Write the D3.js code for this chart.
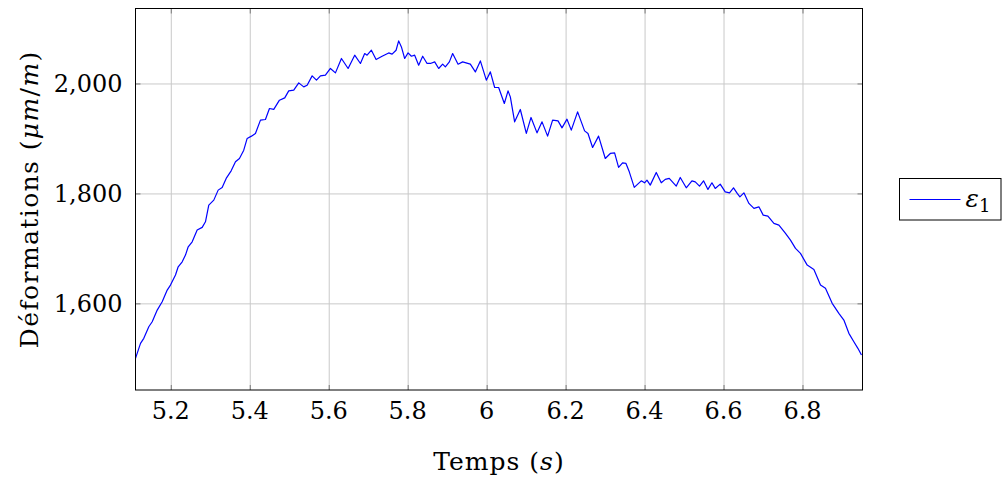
<!DOCTYPE html>
<html>
<head>
<meta charset="utf-8">
<script src="https://cdn.jsdelivr.net/npm/d3@7"></script>
<style>
    body { margin: 0; background: #fff; }
    svg { display: block; }
</style>
</head>
<body>
<div id="chart"></div>
<script>
// time (s)
const temps = [5.1106, 5.1233, 5.1316, 5.1443, 5.1529, 5.1656, 5.1782, 5.1909, 5.1992, 5.2119,
    5.2187, 5.2289, 5.2372, 5.2441, 5.2542, 5.2668, 5.2795, 5.2878, 5.2962, 5.3089,
    5.3200, 5.3301, 5.3403, 5.3529, 5.3638, 5.3739, 5.3848, 5.3934, 5.4043, 5.4144,
    5.4271, 5.4397, 5.4499, 5.4608, 5.4752, 5.4886, 5.4987, 5.5114, 5.5241, 5.5367,
    5.5453, 5.5580, 5.5689, 5.5790, 5.5916, 5.6043, 5.6170, 5.6322, 5.6491, 5.6658,
    5.6803, 5.6911, 5.6972, 5.7081, 5.7200, 5.7352, 5.7519, 5.7605, 5.7706, 5.7772,
    5.7841, 5.7924, 5.8010, 5.8094, 5.8177, 5.8278, 5.8380, 5.8491, 5.8575, 5.8684,
    5.8785, 5.8886, 5.8954, 5.9056, 5.9139, 5.9276, 5.9392, 5.9587, 5.9714, 5.9841,
    5.9992, 6.0094, 6.0203, 6.0304, 6.0448, 6.0542, 6.0600, 6.0709, 6.0853, 6.1005,
    6.1124, 6.1276, 6.1403, 6.1544, 6.1671, 6.1808, 6.1909, 6.2035, 6.2144, 6.2304,
    6.2481, 6.2567, 6.2684, 6.2835, 6.3005, 6.3132, 6.3241, 6.3342, 6.3443, 6.3529,
    6.3613, 6.3739, 6.3916, 6.4000, 6.4061, 6.4144, 6.4296, 6.4423, 6.4524, 6.4625,
    6.4803, 6.4904, 6.5056, 6.5200, 6.5284, 6.5392, 6.5494, 6.5605, 6.5706, 6.5790,
    6.5916, 6.6043, 6.6152, 6.6253, 6.6347, 6.6415, 6.6516, 6.6643, 6.6770, 6.6896,
    6.7005, 6.7124, 6.7276, 6.7403, 6.7570, 6.7696, 6.7823, 6.7949, 6.8119, 6.8289,
    6.8456, 6.8582, 6.8752, 6.8921, 6.9048, 6.9175, 6.9301, 6.9403, 6.9494];

// strain epsilon_1 (µm/m)
const epsilon1 = [1500.0, 1527.3, 1536.4, 1557.5, 1566.5, 1587.8, 1602.9, 1624.2, 1633.3, 1651.5,
    1666.5, 1675.6, 1687.8, 1702.9, 1712.0, 1733.3, 1738.2, 1748.4, 1778.7, 1787.8,
    1806.0, 1810.9, 1827.3, 1841.1, 1857.5, 1863.6, 1878.7, 1900.0, 1904.2, 1909.1,
    1933.3, 1934.5, 1954.5, 1953.0, 1969.6, 1973.8, 1986.5, 1987.8, 2001.1, 1993.8,
    1996.9, 2013.8, 2006.0, 2013.8, 2015.1, 2027.3, 2019.3, 2045.5, 2027.3, 2051.5,
    2036.4, 2054.5, 2051.5, 2060.5, 2043.6, 2049.6, 2055.6, 2053.3, 2060.5, 2077.5,
    2066.5, 2045.5, 2055.6, 2049.6, 2051.5, 2033.3, 2049.6, 2036.4, 2036.4, 2039.3,
    2027.3, 2035.1, 2030.2, 2039.3, 2054.5, 2035.1, 2039.3, 2035.1, 2021.1, 2041.1,
    2006.0, 2021.1, 1992.7, 1992.7, 1963.6, 1986.5, 1975.6, 1930.2, 1952.7, 1909.1,
    1938.2, 1910.2, 1930.2, 1904.2, 1933.3, 1932.0, 1919.3, 1935.1, 1915.1, 1948.4,
    1913.8, 1909.1, 1883.6, 1904.2, 1863.6, 1872.7, 1873.8, 1847.3, 1855.6, 1854.5,
    1839.3, 1810.9, 1822.9, 1819.3, 1824.2, 1815.1, 1838.2, 1819.3, 1825.5, 1827.3,
    1813.3, 1829.1, 1810.2, 1822.9, 1821.1, 1813.3, 1822.9, 1807.3, 1819.3, 1809.1,
    1816.9, 1802.9, 1801.1, 1810.2, 1800.0, 1793.8, 1801.1, 1781.8, 1772.7, 1775.6,
    1760.5, 1758.7, 1745.5, 1742.4, 1727.3, 1715.1, 1700.0, 1690.9, 1669.6, 1661.8,
    1633.3, 1627.3, 1600.0, 1581.8, 1569.7, 1545.5, 1530.2, 1518.2, 1506.0];

const xTickValues = [5.2, 5.4, 5.6, 5.8, 6.0, 6.2, 6.4, 6.6, 6.8];
const xTickLabels = ["5.2", "5.4", "5.6", "5.8", "6", "6.2", "6.4", "6.6", "6.8"];
const yTickValues = [1600, 1800, 2000];
const yTickLabels = ["1,600", "1,800", "2,000"];
const xRange = [5.1106, 6.952];
const yRange = [1442.4, 2136.4];

const FONT = "'DejaVu Serif', serif";

function drawChart() {
    const W = 1002, H = 478;
    const margin = {top: 8.5, left: 135.5},
        width = 727,
        height = 381.5;

    const svg = d3.select("#chart")
        .append("svg")
        .attr("width", W)
        .attr("height", H)
        .attr("font-family", FONT);

    const g = svg.append("g")
        .attr("transform", `translate(${margin.left},${margin.top})`);

    const x = d3.scaleLinear().domain(xRange).range([0, width]);
    const y = d3.scaleLinear().domain(yRange).range([height, 0]);

    // grid
    g.append("g")
        .attr("transform", `translate(0,${height})`)
        .call(d3.axisBottom(x).tickValues(xTickValues).tickSize(-height).tickFormat(""))
        .call(a => a.select(".domain").remove())
        .call(a => a.selectAll("line").attr("stroke", "#c9c9c9").attr("stroke-width", 1));
    g.append("g")
        .call(d3.axisLeft(y).tickValues(yTickValues).tickSize(-width).tickFormat(""))
        .call(a => a.select(".domain").remove())
        .call(a => a.selectAll("line").attr("stroke", "#c9c9c9").attr("stroke-width", 1));

    // inner tick marks on all four sides
    const tk = 5;
    const tickStyle = a => {
        a.select(".domain").remove();
        a.selectAll("line").attr("stroke", "#7a7a7a").attr("stroke-width", 1);
    };
    g.append("g").attr("transform", `translate(0,${height})`)
        .call(d3.axisBottom(x).tickValues(xTickValues).tickSize(-tk).tickFormat("")).call(tickStyle);
    g.append("g")
        .call(d3.axisTop(x).tickValues(xTickValues).tickSize(-tk).tickFormat("")).call(tickStyle);
    g.append("g")
        .call(d3.axisLeft(y).tickValues(yTickValues).tickSize(-tk).tickFormat("")).call(tickStyle);
    g.append("g").attr("transform", `translate(${width},0)`)
        .call(d3.axisRight(y).tickValues(yTickValues).tickSize(-tk).tickFormat("")).call(tickStyle);

    // tick labels
    g.append("g").selectAll("text")
        .data(xTickValues)
        .enter().append("text")
        .attr("x", d => x(d))
        .attr("y", height + 29)
        .attr("text-anchor", "middle")
        .attr("font-size", 24)
        .text((d, i) => xTickLabels[i]);

    g.append("g").selectAll("text")
        .data(yTickValues)
        .enter().append("text")
        .attr("x", -13)
        .attr("y", d => y(d) + 9)
        .attr("text-anchor", "end")
        .attr("font-size", 24)
        .text((d, i) => yTickLabels[i]);

    // data line
    const points = temps.map((t, i) => [t, epsilon1[i]]);
    g.append("path")
        .datum(points)
        .attr("fill", "none")
        .attr("stroke", "#0000ff")
        .attr("stroke-width", 1.2)
        .attr("stroke-linejoin", "round")
        .attr("d", d3.line().x(d => x(d[0])).y(d => y(d[1])));

    // frame
    g.append("rect")
        .attr("width", width)
        .attr("height", height)
        .attr("fill", "none")
        .attr("stroke", "#000")
        .attr("stroke-width", 1);

    // axis titles
    const xt = svg.append("text")
        .attr("x", margin.left + width / 2)
        .attr("y", 470)
        .attr("text-anchor", "middle")
        .attr("font-size", 25)
        .attr("letter-spacing", 1);
    xt.append("tspan").text("Temps (");
    xt.append("tspan").attr("font-style", "italic").text("s");
    xt.append("tspan").text(")");

    const yt = svg.append("text")
        .attr("transform", `translate(38,${margin.top + height / 2}) rotate(-90)`)
        .attr("text-anchor", "middle")
        .attr("font-size", 25)
        .attr("letter-spacing", 1.4);
    yt.append("tspan").text("Déformations (");
    yt.append("tspan").attr("font-style", "italic").text("μm");
    yt.append("tspan").text("/");
    yt.append("tspan").attr("font-style", "italic").text("m");
    yt.append("tspan").text(")");

    // legend
    const lg = svg.append("g").attr("transform", "translate(899.5,178.5)");
    lg.append("rect")
        .attr("width", 101.5)
        .attr("height", 41.5)
        .attr("fill", "#fff")
        .attr("stroke", "#000")
        .attr("stroke-width", 1);
    lg.append("line")
        .attr("x1", 10).attr("x2", 61)
        .attr("y1", 21).attr("y2", 21)
        .attr("stroke", "#0000ff")
        .attr("stroke-width", 1.2);
    const lt = lg.append("text")
        .attr("x", 66)
        .attr("y", 28)
        .attr("font-size", 25);
    lt.append("tspan").attr("font-style", "italic").text("ε");
    lt.append("tspan").attr("dy", 5).attr("font-size", 18).text("1");
}

drawChart();
</script>
</body>
</html>
